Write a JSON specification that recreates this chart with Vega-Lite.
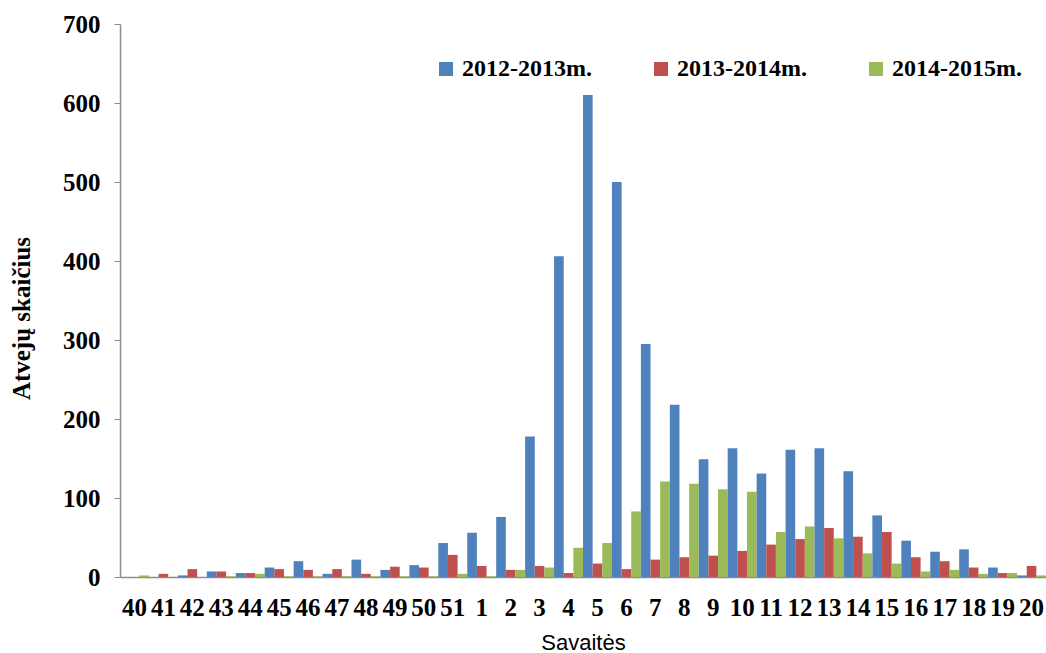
{
  "$schema": "https://vega.github.io/schema/vega-lite/v6.json",
  "width": 926,
  "height": 553,
  "autosize": {"type": "none"},
  "padding": {"left": 120, "top": 24, "right": 0, "bottom": 76},
  "background": "white",
  "config": {"view": {"stroke": null}},
  "data": {"values": [
    {"w":"40","s":"2012-2013m.","v":0},{"w":"40","s":"2013-2014m.","v":0},{"w":"40","s":"2014-2015m.","v":2},
    {"w":"41","s":"2012-2013m.","v":0},{"w":"41","s":"2013-2014m.","v":4},{"w":"41","s":"2014-2015m.","v":0},
    {"w":"42","s":"2012-2013m.","v":2},{"w":"42","s":"2013-2014m.","v":10},{"w":"42","s":"2014-2015m.","v":0},
    {"w":"43","s":"2012-2013m.","v":7},{"w":"43","s":"2013-2014m.","v":7},{"w":"43","s":"2014-2015m.","v":1},
    {"w":"44","s":"2012-2013m.","v":5},{"w":"44","s":"2013-2014m.","v":5},{"w":"44","s":"2014-2015m.","v":4},
    {"w":"45","s":"2012-2013m.","v":12},{"w":"45","s":"2013-2014m.","v":10},{"w":"45","s":"2014-2015m.","v":1},
    {"w":"46","s":"2012-2013m.","v":20},{"w":"46","s":"2013-2014m.","v":9},{"w":"46","s":"2014-2015m.","v":1},
    {"w":"47","s":"2012-2013m.","v":4},{"w":"47","s":"2013-2014m.","v":10},{"w":"47","s":"2014-2015m.","v":1},
    {"w":"48","s":"2012-2013m.","v":22},{"w":"48","s":"2013-2014m.","v":4},{"w":"48","s":"2014-2015m.","v":1},
    {"w":"49","s":"2012-2013m.","v":9},{"w":"49","s":"2013-2014m.","v":13},{"w":"49","s":"2014-2015m.","v":1},
    {"w":"50","s":"2012-2013m.","v":15},{"w":"50","s":"2013-2014m.","v":12},{"w":"50","s":"2014-2015m.","v":1},
    {"w":"51","s":"2012-2013m.","v":43},{"w":"51","s":"2013-2014m.","v":28},{"w":"51","s":"2014-2015m.","v":4},
    {"w":"1","s":"2012-2013m.","v":56},{"w":"1","s":"2013-2014m.","v":14},{"w":"1","s":"2014-2015m.","v":1},
    {"w":"2","s":"2012-2013m.","v":76},{"w":"2","s":"2013-2014m.","v":9},{"w":"2","s":"2014-2015m.","v":9},
    {"w":"3","s":"2012-2013m.","v":178},{"w":"3","s":"2013-2014m.","v":14},{"w":"3","s":"2014-2015m.","v":12},
    {"w":"4","s":"2012-2013m.","v":406},{"w":"4","s":"2013-2014m.","v":5},{"w":"4","s":"2014-2015m.","v":37},
    {"w":"5","s":"2012-2013m.","v":610},{"w":"5","s":"2013-2014m.","v":17},{"w":"5","s":"2014-2015m.","v":43},
    {"w":"6","s":"2012-2013m.","v":500},{"w":"6","s":"2013-2014m.","v":10},{"w":"6","s":"2014-2015m.","v":83},
    {"w":"7","s":"2012-2013m.","v":295},{"w":"7","s":"2013-2014m.","v":22},{"w":"7","s":"2014-2015m.","v":121},
    {"w":"8","s":"2012-2013m.","v":218},{"w":"8","s":"2013-2014m.","v":25},{"w":"8","s":"2014-2015m.","v":118},
    {"w":"9","s":"2012-2013m.","v":149},{"w":"9","s":"2013-2014m.","v":27},{"w":"9","s":"2014-2015m.","v":111},
    {"w":"10","s":"2012-2013m.","v":163},{"w":"10","s":"2013-2014m.","v":33},{"w":"10","s":"2014-2015m.","v":108},
    {"w":"11","s":"2012-2013m.","v":131},{"w":"11","s":"2013-2014m.","v":41},{"w":"11","s":"2014-2015m.","v":57},
    {"w":"12","s":"2012-2013m.","v":161},{"w":"12","s":"2013-2014m.","v":48},{"w":"12","s":"2014-2015m.","v":64},
    {"w":"13","s":"2012-2013m.","v":163},{"w":"13","s":"2013-2014m.","v":62},{"w":"13","s":"2014-2015m.","v":49},
    {"w":"14","s":"2012-2013m.","v":134},{"w":"14","s":"2013-2014m.","v":51},{"w":"14","s":"2014-2015m.","v":30},
    {"w":"15","s":"2012-2013m.","v":78},{"w":"15","s":"2013-2014m.","v":57},{"w":"15","s":"2014-2015m.","v":17},
    {"w":"16","s":"2012-2013m.","v":46},{"w":"16","s":"2013-2014m.","v":25},{"w":"16","s":"2014-2015m.","v":7},
    {"w":"17","s":"2012-2013m.","v":32},{"w":"17","s":"2013-2014m.","v":20},{"w":"17","s":"2014-2015m.","v":9},
    {"w":"18","s":"2012-2013m.","v":35},{"w":"18","s":"2013-2014m.","v":12},{"w":"18","s":"2014-2015m.","v":4},
    {"w":"19","s":"2012-2013m.","v":12},{"w":"19","s":"2013-2014m.","v":5},{"w":"19","s":"2014-2015m.","v":5},
    {"w":"20","s":"2012-2013m.","v":2},{"w":"20","s":"2013-2014m.","v":14},{"w":"20","s":"2014-2015m.","v":2}
  ]},
  "mark": {"type": "bar"},
  "encoding": {
    "x": {
      "field": "w", "type": "nominal",
      "sort": ["40","41","42","43","44","45","46","47","48","49","50","51","1","2","3","4","5","6","7","8","9","10","11","12","13","14","15","16","17","18","19","20"],
      "scale": {"paddingInner": 0, "paddingOuter": 0},
      "axis": {
        "title": "Savaitės",
        "titleFont": "Liberation Sans", "titleFontSize": 22, "titleFontWeight": "normal", "titleColor": "#000",
        "titlePadding": 12,
        "labelAngle": 0, "labelFont": "Liberation Serif", "labelFontSize": 25, "labelFontWeight": "bold", "labelColor": "#000",
        "labelPadding": 18, "labelOverlap": false,
        "ticks": false, "domainColor": "#8c8c8c", "domainWidth": 1.5, "grid": false
      }
    },
    "xOffset": {
      "field": "s", "type": "nominal",
      "scale": {"paddingInner": 0, "paddingOuter": 0}
    },
    "y": {
      "field": "v", "type": "quantitative",
      "scale": {"domain": [0, 700], "nice": false},
      "axis": {
        "title": "Atvejų skaičius",
        "titleFont": "Liberation Serif", "titleFontSize": 25, "titleFontWeight": "bold", "titleColor": "#000",
        "titleX": -99, "titleY": 294, "titleAngle": -90, "titleAlign": "center", "titleBaseline": "middle",
        "values": [0,100,200,300,400,500,600,700],
        "labelFont": "Liberation Serif", "labelFontSize": 25, "labelFontWeight": "bold", "labelColor": "#000",
        "labelPadding": 14,
        "tickSize": 6, "tickColor": "#8c8c8c", "domainColor": "#8c8c8c", "domainWidth": 1.5, "grid": false
      }
    },
    "color": {
      "field": "s", "type": "nominal",
      "scale": {"domain": ["2012-2013m.","2013-2014m.","2014-2015m."], "range": ["#4F81BD","#C0504D","#9BBB59"]},
      "legend": {
        "title": null, "orient": "none", "direction": "horizontal",
        "legendX": 314, "legendY": 33,
        "symbolType": "square", "symbolSize": 196, "symbolStrokeWidth": 0,
        "labelFont": "Liberation Serif", "labelFontSize": 24, "labelFontWeight": "bold", "labelColor": "#000",
        "labelOffset": 4, "columnPadding": 57, "labelLimit": 300
      }
    }
  }
}
